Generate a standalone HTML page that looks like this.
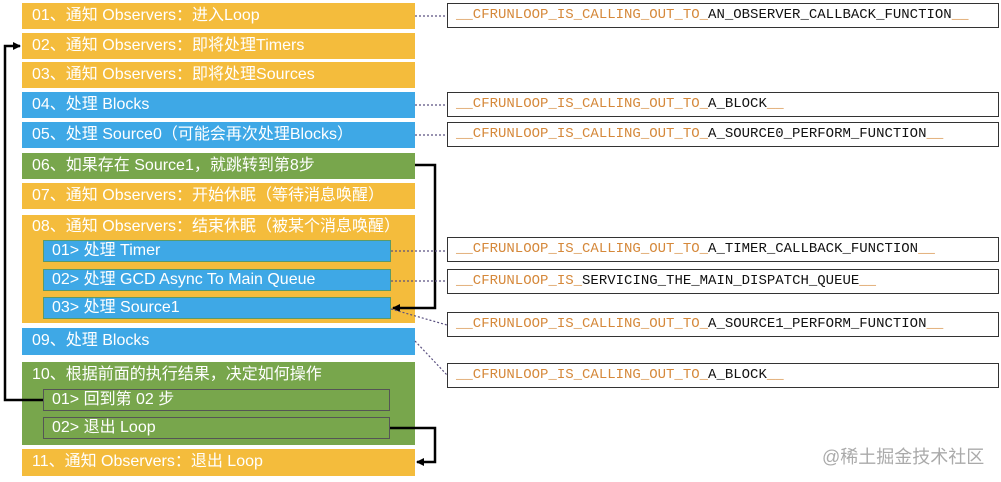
<!DOCTYPE html>
<html><head><meta charset="utf-8"><style>
body{margin:0;width:1001px;height:482px;background:#fff;position:relative;overflow:hidden;font-family:"Liberation Sans","Noto Sans CJK SC",sans-serif}
.b{position:absolute;color:#fff;font-size:16px;box-sizing:border-box;padding-left:10px;line-height:26px}
.y{background:#f4bc3c}.u{background:#3ea8e6}.g{background:#78a64c}
.s{position:absolute;color:#fff;font-size:16px;box-sizing:border-box;padding-left:8px;line-height:20px}
.m{position:absolute;left:447px;width:552px;height:25px;border:1.5px solid #333;box-sizing:border-box;font-family:"Liberation Mono",monospace;font-size:14px;line-height:22px;padding-left:8px;color:#111}
.m i{font-style:normal;color:#d5883a}
svg{position:absolute;left:0;top:0}
</style></head><body>
<div class="b y" style="left:22px;top:3px;width:393px;height:26px">01、通知 Observers：进入Loop</div>
<div class="b y" style="left:22px;top:33px;width:393px;height:26px">02、通知 Observers：即将处理Timers</div>
<div class="b y" style="left:22px;top:62px;width:393px;height:26px">03、通知 Observers：即将处理Sources</div>
<div class="b u" style="left:22px;top:92px;width:393px;height:26px">04、处理 Blocks</div>
<div class="b u" style="left:22px;top:122px;width:393px;height:26px">05、处理 Source0（可能会再次处理Blocks）</div>
<div class="b g" style="left:22px;top:153px;width:393px;height:26px">06、如果存在 Source1，就跳转到第8步</div>
<div class="b y" style="left:22px;top:183px;width:393px;height:26px">07、通知 Observers：开始休眠（等待消息唤醒）</div>
<div class="b y" style="left:22px;top:215px;width:393px;height:108px;line-height:24px">08、通知 Observers：结束休眠（被某个消息唤醒）</div>
<div class="s u" style="left:43px;top:240px;width:348px;height:22px;border:1px solid #5a9a6a">01&gt; 处理 Timer</div>
<div class="s u" style="left:43px;top:269px;width:348px;height:22px;border:1px solid #5a9a6a">02&gt; 处理 GCD Async To Main Queue</div>
<div class="s u" style="left:43px;top:297px;width:348px;height:22px;border:1px solid #5a9a6a">03&gt; 处理 Source1</div>
<div class="b u" style="left:22px;top:328px;width:393px;height:27px">09、处理 Blocks</div>
<div class="b g" style="left:22px;top:362px;width:393px;height:83px;line-height:26px">10、根据前面的执行结果，决定如何操作</div>
<div class="s g" style="left:43px;top:389px;width:347px;height:22px;border:1.5px solid #555">01&gt; 回到第 02 步</div>
<div class="s g" style="left:43px;top:417px;width:347px;height:22px;border:1.5px solid #555">02&gt; 退出 Loop</div>
<div class="b y" style="left:22px;top:449px;width:393px;height:27px">11、通知 Observers：退出 Loop</div>

<div class="m" style="top:3px"><i>__CFRUNLOOP_IS_CALLING_OUT_TO_</i>AN_OBSERVER_CALLBACK_FUNCTION<i>__</i></div>
<div class="m" style="top:92px"><i>__CFRUNLOOP_IS_CALLING_OUT_TO_</i>A_BLOCK<i>__</i></div>
<div class="m" style="top:122px"><i>__CFRUNLOOP_IS_CALLING_OUT_TO_</i>A_SOURCE0_PERFORM_FUNCTION<i>__</i></div>
<div class="m" style="top:237px"><i>__CFRUNLOOP_IS_CALLING_OUT_TO_</i>A_TIMER_CALLBACK_FUNCTION<i>__</i></div>
<div class="m" style="top:269px"><i>__CFRUNLOOP_IS_</i>SERVICING_THE_MAIN_DISPATCH_QUEUE<i>__</i></div>
<div class="m" style="top:312px"><i>__CFRUNLOOP_IS_CALLING_OUT_TO_</i>A_SOURCE1_PERFORM_FUNCTION<i>__</i></div>
<div class="m" style="top:363px"><i>__CFRUNLOOP_IS_CALLING_OUT_TO_</i>A_BLOCK<i>__</i></div>
<div style="position:absolute;left:822px;top:443px;font-size:18px;color:#aaa">@稀土掘金技术社区</div>

<svg width="1001" height="482">
<defs><marker id="a" markerWidth="8" markerHeight="8" refX="7" refY="4" orient="auto" markerUnits="userSpaceOnUse"><path d="M0,0L8,4L0,8z" fill="#000"/></marker></defs>
<g stroke="#000" stroke-width="2.5" fill="none">
<path d="M43,400H5V46H20" marker-end="url(#a)"/>
<path d="M415,165H435V308H393" marker-end="url(#a)"/>
<path d="M390,428H435V462H417" marker-end="url(#a)"/>
</g>
<g stroke="#5a5080" stroke-width="1.2" stroke-dasharray="2,2" fill="none">
<path d="M415,16H447"/><path d="M415,105H447"/><path d="M415,135H447"/>
<path d="M391,251H447"/><path d="M391,281H447"/>
<path d="M391,309L447,325"/><path d="M415,341L447,375"/>
</g>
</svg>
</body></html>
